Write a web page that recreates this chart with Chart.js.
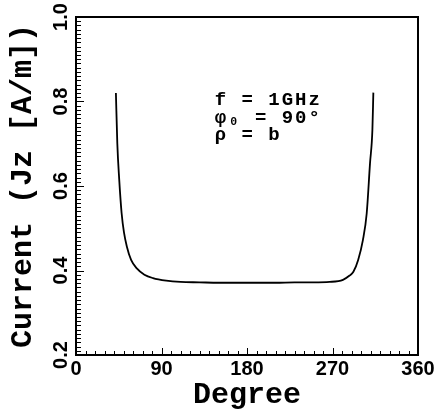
<!DOCTYPE html>
<html>
<head>
<meta charset="utf-8">
<script src="https://cdn.jsdelivr.net/npm/chart.js@4/dist/chart.umd.min.js"></script>
<style>
  html, body { margin: 0; padding: 0; background: #fff; }
  #wrap { width: 445px; height: 416px; }
</style>
</head>
<body>
<div id="wrap"><canvas id="chart"></canvas></div>
<script>
// data
const degrees = [
  42, 43.5, 45.5, 48, 50.5, 53.5, 58, 64, 72, 81, 95, 110, 130, 150, 180,
  210, 230, 250, 267, 281, 288, 292, 297, 302, 306, 309.5, 312, 313,
];
const current = [
  0.82, 0.7, 0.615, 0.536, 0.49, 0.457, 0.425, 0.405, 0.39, 0.382, 0.376,
  0.373, 0.372, 0.371, 0.371, 0.371, 0.372, 0.372, 0.373, 0.378, 0.388,
  0.397, 0.425, 0.472, 0.535, 0.654, 0.733, 0.821,
];
const xTicks = [0, 90, 180, 270, 360];
const yTicks = [0.2, 0.4, 0.6, 0.8, 1.0];
const notes = ["f = 1GHz", "φ₀ = 90°", "ρ = b"];
const noteX = 146;
const noteY = [0.792, 0.749, 0.709];

//inward ticks, frame box, rotated y labels and the note
const frame = {
  id: "frame",
  afterDraw(c) {
    const { ctx, chartArea: a, scales: { x, y } } = c;
    ctx.save();
    ctx.strokeStyle = "#000";
    ctx.fillStyle = "#000";
    ctx.lineWidth = 1;
    for (let d = 0; d <= 360; d += 10) {
      const px = Math.round(x.getPixelForValue(d)) + 0.5;
      const len = d % 90 === 0 ? 7 : 4;
      ctx.beginPath();
      ctx.moveTo(px, a.bottom);
      ctx.lineTo(px, a.bottom - len);
      ctx.stroke();
    }
    for (let i = 20; i <= 100; i++) {
      const py = Math.round(y.getPixelForValue(i / 100)) + 0.5;
      const len = i % 20 === 0 ? 8 : 5;
      ctx.beginPath();
      ctx.moveTo(a.left, py);
      ctx.lineTo(a.left + len, py);
      ctx.stroke();
    }
    ctx.lineWidth = 2;
    ctx.strokeRect(a.left, a.top, a.right - a.left, a.bottom - a.top);

    ctx.font = "bold 20px 'Liberation Sans'";
    ctx.textAlign = "center";
    ctx.textBaseline = "middle";
    y.ticks.forEach((t) => {
      ctx.save();
      ctx.translate(a.left - 15, y.getPixelForValue(t.value));
      ctx.rotate(-Math.PI / 2);
      ctx.fillText(t.value.toFixed(1), 0, 0);
      ctx.restore();
    });

    ctx.font = "bold 19px 'Liberation Mono'";
    ctx.letterSpacing = "2px";
    ctx.textAlign = "left";
    ctx.textBaseline = "alphabetic";
    notes.forEach((s, i) => {
      ctx.fillText(s, x.getPixelForValue(noteX), y.getPixelForValue(noteY[i]));
    });
    ctx.restore();
  },
};

new Chart(document.querySelector("#chart"), {
  type: "line",
  data: {
    datasets: [
      {
        data: degrees.map((d, i) => ({ x: d, y: current[i] })),
        borderColor: "#000",
        borderWidth: 1.8,
        pointRadius: 0,
        cubicInterpolationMode: "monotone",
        fill: false,
      },
    ],
  },
  options: {
    responsive: true,
    maintainAspectRatio: false,
    animation: false,
    layout: { padding: { left: 0, right: 27, top: 17, bottom: 0 } },
    plugins: { legend: { display: false }, tooltip: { enabled: false } },
    scales: {
      x: {
        type: "linear",
        min: 0,
        max: 360,
        afterBuildTicks: (s) => { s.ticks = xTicks.map((v) => ({ value: v })); },
        afterFit: (s) => { s.height = 61; },
        grid: { display: false },
        border: { display: false },
        ticks: {
          color: "#000",
          padding: -6,
          font: { family: "'Liberation Sans'", size: 20, weight: "bold" },
        },
        title: {
          display: true,
          text: "Degree",
          color: "#000",
          padding: { top: 0, bottom: 3 },
          font: { family: "'Liberation Mono'", size: 30, weight: "bold" },
        },
      },
      y: {
        min: 0.2,
        max: 1.0,
        afterBuildTicks: (s) => { s.ticks = yTicks.map((v) => ({ value: v })); },
        afterFit: (s) => { s.width = 76; },
        grid: { display: false },
        border: { display: false },
        ticks: { display: false },
        title: {
          display: true,
          text: "Current (Jz [A/m])",
          color: "#000",
          padding: { top: 5, bottom: 0 },
          font: { family: "'Liberation Mono'", size: 30, weight: "bold" },
        },
      },
    },
  },
  plugins: [frame],
});
</script>
</body>
</html>
